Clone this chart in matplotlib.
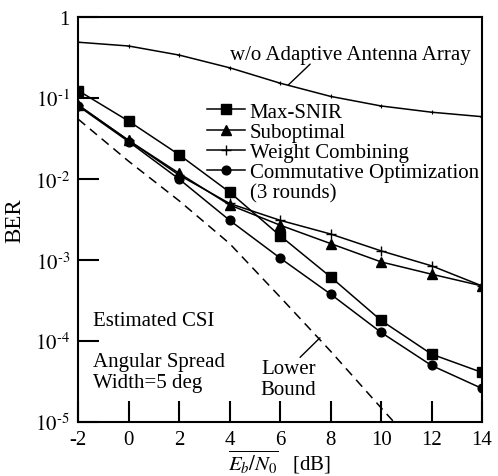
import numpy as np
import matplotlib
matplotlib.use("Agg")
import matplotlib.pyplot as plt
from matplotlib.lines import Line2D
from matplotlib.ticker import FixedLocator, FuncFormatter

plt.rcParams['font.family'] = ['Liberation Serif', 'DejaVu Serif']
plt.rcParams['mathtext.fontset'] = 'stix'
plt.rcParams['axes.unicode_minus'] = False

# Eb/N0 [dB]
snr = [-2, 0, 2, 4, 6, 8, 10, 12, 14]

# BER curves
ber_no_aaa = [0.49, 0.44, 0.34, 0.237, 0.153, 0.105, 0.080, 0.067, 0.059]
ber_max_snir = [0.124, 0.052, 0.020, 0.0069, 0.0020, 6.2e-4, 1.8e-4, 6.9e-5, 4.1e-5]
ber_subopt = [0.082, 0.030, 0.0118, 0.0048, 0.0027, 0.0016, 9.5e-4, 6.7e-4, 4.8e-4]
ber_weight = [0.082, 0.030, 0.0112, 0.0050, 0.0031, 0.0021, 1.3e-3, 8.5e-4, 4.8e-4]
ber_commut = [0.080, 0.029, 0.0100, 0.0031, 0.00106, 3.8e-4, 1.28e-4, 5.0e-5, 2.6e-5]

snr_lb = [-2, 0, 2, 4, 6, 8, 10, 11]
ber_lb = [0.055, 0.0166, 0.0054, 0.0016, 3.5e-4, 7.5e-5, 1.5e-5, 6.8e-6]

fig = plt.figure(figsize=(4.98, 4.77), dpi=100)
ax = fig.add_axes([0.157, 0.113, 0.811, 0.849])

lw = 1.1
ax.plot(snr, ber_no_aaa, color='black', lw=lw, marker='+', ms=3, mew=0.8)
ax.plot(snr, ber_max_snir, color='black', lw=lw, marker='s', ms=7)
ax.plot(snr, ber_subopt, color='black', lw=lw, marker='^', ms=7.5)
ax.plot(snr, ber_weight, color='black', lw=lw, marker='+', ms=7, mew=1.0)
ax.plot(snr, ber_commut, color='black', lw=lw, marker='o', ms=6.3)
ax.plot(snr_lb, ber_lb, color='black', lw=lw, ls=(0, (6, 4)))

ax.set_yscale('log')
ax.set_xlim(-2, 14)
ax.set_ylim(1e-5, 1)

ax.xaxis.set_major_locator(FixedLocator([-2, 0, 2, 4, 6, 8, 10, 12, 14]))
ax.yaxis.set_major_locator(FixedLocator([1e-5, 1e-4, 1e-3, 1e-2, 1e-1, 1]))
ax.yaxis.set_minor_locator(FixedLocator([]))


def fmt_y(v, pos):
    if v >= 1:
        return '1'
    return r'$10^{\text{%d}}$' % int(round(np.log10(v)))


ax.yaxis.set_major_formatter(FuncFormatter(fmt_y))
ax.tick_params(direction='in', length=15, width=1.5, labelsize=15,
               top=False, right=False, pad=6)
for s in ax.spines.values():
    s.set_linewidth(1.5)

ax.set_xlabel(r'$\overline{E_b/N_0}$   [dB]', fontsize=15, labelpad=-1)
ax.set_ylabel('BER', fontsize=16.5)
ax.yaxis.set_label_coords(-0.13, 0.5)

handles = [
    Line2D([], [], color='black', lw=lw, marker='s', ms=7),
    Line2D([], [], color='black', lw=lw, marker='^', ms=7.5),
    Line2D([], [], color='black', lw=lw, marker='+', ms=7, mew=1.0),
    Line2D([], [], color='black', lw=lw, marker='o', ms=6.3),
    Line2D([], [], linestyle='none'),
]
labels = ['Max-SNIR', 'Suboptimal', 'Weight Combining',
          'Commutative Optimization', '(3 rounds)']
ax.legend(handles, labels, loc='upper left', bbox_to_anchor=(0.319, 0.79),
          frameon=False, fontsize=15, borderpad=0, borderaxespad=0,
          handlelength=1.8, handletextpad=0.25, labelspacing=0.03)

ax.text(8.77, 0.349, 'w/o Adaptive Antenna Array', fontsize=15,
        ha='center', va='center')
ax.annotate('', xy=(6.32, 0.145), xytext=(7.19, 0.263),
            arrowprops=dict(arrowstyle='-', color='black', lw=1.0,
                            shrinkA=0, shrinkB=0))
ax.text(6.32, 3.4e-5, 'Lower\nBound', fontsize=15, ha='center',
        va='center', linespacing=1.2)
ax.annotate('', xy=(7.58, 1.1e-4), xytext=(6.79, 6.3e-5),
            arrowprops=dict(arrowstyle='-', color='black', lw=1.0,
                            shrinkA=0, shrinkB=0))

ax.text(-1.41, 1.8e-4, 'Estimated CSI', fontsize=15, va='center')
ax.text(-1.41, 4.2e-5, 'Angular Spread\nWidth=5 deg', fontsize=15,
        va='center', linespacing=1.15)

fig.savefig('out.png', dpi=100)
